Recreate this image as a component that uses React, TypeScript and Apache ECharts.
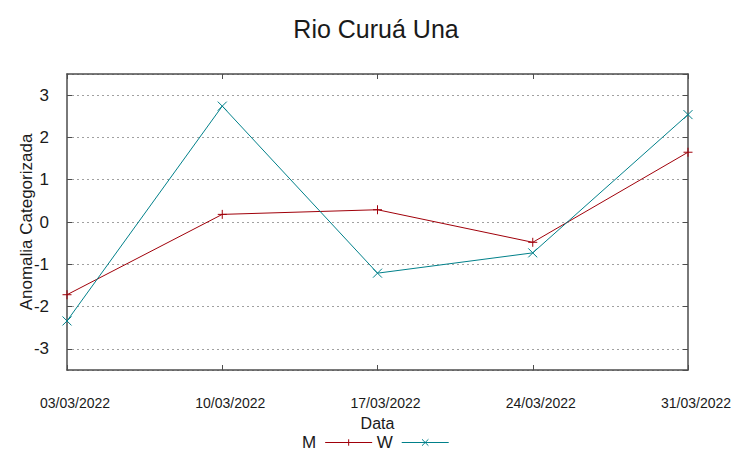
import React, { useEffect, useRef } from "react";
import * as echarts from "echarts";

const categories = ["03/03/2022", "10/03/2022", "17/03/2022", "24/03/2022", "31/03/2022"];
const seriesM = [-1.72, 0.18, 0.29, -0.48, 1.65];
const seriesW = [-2.34, 2.74, -1.21, -0.73, 2.54];
const titleText = "Rio Curuá Una";
const yName = "Anomalia Categorizada";
const xName = "Data";

const PLUS = "path://M0,5L10,5M5,0L5,10";
const CROSS = "path://M0,0L10,10M10,0L0,10";

export default function App() {
  const ref = useRef<HTMLDivElement>(null);
  useEffect(() => {
    if (!ref.current) return;
    const chart = echarts.init(ref.current, null, { renderer: "svg" });
    const frame = { onZero: false, lineStyle: { color: "#4d4d4d", width: 1.5 } };
    const font = "'Liberation Sans', Arial, sans-serif";
    chart.setOption({
      animation: false,
      backgroundColor: "#ffffff",
      title: {
        text: titleText,
        left: "center",
        top: 11,
        textStyle: { fontFamily: font, fontSize: 25, fontWeight: "normal", color: "#1a1a1a" },
      },
      legend: {
        bottom: 3,
        left: 297,
        align: "right",
        itemWidth: 47,
        itemHeight: 8,
        itemGap: 4,
        lineStyle: { width: 1 },
        itemStyle: { borderWidth: 1 },
        textStyle: { fontFamily: font, fontSize: 17, color: "#1a1a1a", padding: [0, 4, 0, 0] },
        data: ["M", "W"],
      },
      grid: { left: 67, right: 64, top: 74, bottom: 89 },
      xAxis: [
        {
          type: "category",
          data: categories,
          boundaryGap: false,
          name: xName,
          nameLocation: "middle",
          nameGap: 45,
          nameMoveOverlap: false,
          nameTextStyle: { fontFamily: font, fontSize: 16, color: "#1a1a1a" },
          axisLine: frame,
          axisTick: { show: true, inside: true, length: 5, lineStyle: { color: "#4d4d4d", width: 1 } },
          axisLabel: { fontFamily: font, fontSize: 14, color: "#1a1a1a", margin: 26, padding: [0, 0, 0, 16] },
          splitLine: { show: false },
        },
        {
          type: "category",
          data: categories,
          boundaryGap: false,
          position: "top",
          axisLine: frame,
          axisTick: { show: true, inside: true, length: 5, lineStyle: { color: "#4d4d4d", width: 1 } },
          axisLabel: { show: false },
          splitLine: { show: false },
        },
      ],
      yAxis: [
        {
          type: "value",
          min: -3.5,
          max: 3.5,
          splitNumber: 7,
          name: yName,
          nameLocation: "middle",
          nameGap: 32,
          nameMoveOverlap: false,
          nameTextStyle: { fontFamily: font, fontSize: 17, color: "#1a1a1a" },
          axisLine: { show: true, ...frame },
          axisTick: { show: true, inside: true, length: 5, lineStyle: { color: "#4d4d4d", width: 1 } },
          axisLabel: { fontFamily: font, fontSize: 17, color: "#1a1a1a", margin: 18, showMinLabel: false, showMaxLabel: false },
          splitLine: { show: true, lineStyle: { color: "#a0a0a0", type: [2, 3], width: 1 } },
        },
        {
          type: "value",
          min: -3.5,
          max: 3.5,
          splitNumber: 7,
          position: "right",
          axisLine: { show: true, ...frame },
          axisTick: { show: true, inside: true, length: 5, lineStyle: { color: "#4d4d4d", width: 1 } },
          axisLabel: { show: false },
          splitLine: { show: false },
        },
      ],
      series: [
        {
          name: "M",
          type: "line",
          data: seriesM,
          symbol: PLUS,
          symbolSize: 9,
          color: "#a0000a",
          lineStyle: { color: "#a0000a", width: 1 },
          itemStyle: { color: "none", borderColor: "#a0000a", borderWidth: 1 },
        },
        {
          name: "W",
          type: "line",
          data: seriesW,
          symbol: CROSS,
          symbolSize: 9,
          color: "#00808a",
          lineStyle: { color: "#00808a", width: 1 },
          itemStyle: { color: "none", borderColor: "#00808a", borderWidth: 1 },
        },
      ],
    });
    return () => chart.dispose();
  }, []);
  return <div ref={ref} style={{ width: 752, height: 459, position: "absolute", left: 0, top: 0 }} />;
}
